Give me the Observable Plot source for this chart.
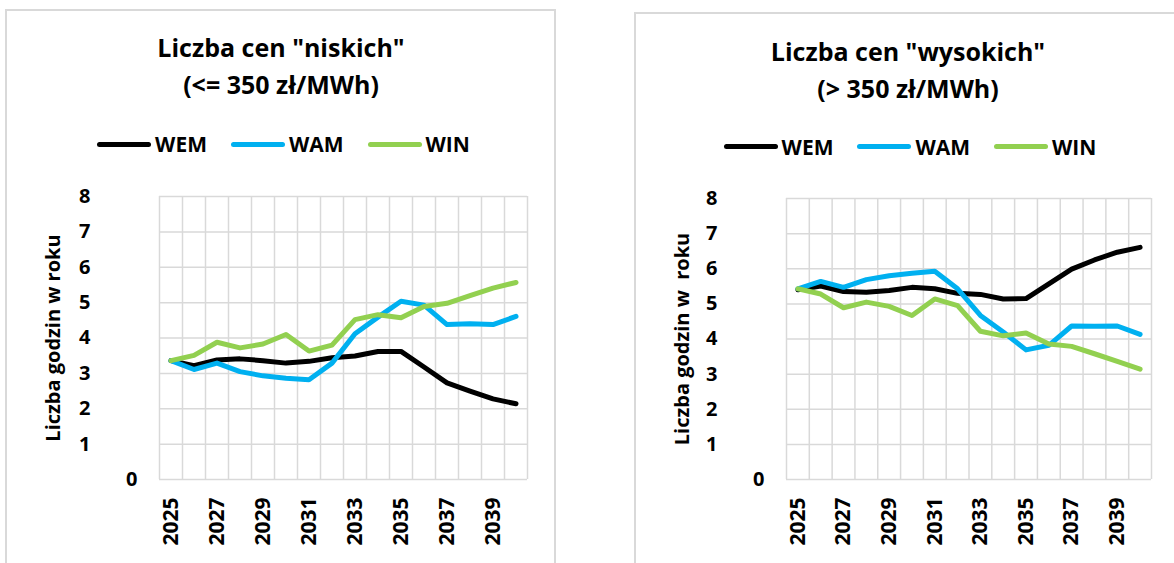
<!DOCTYPE html>
<html><head><meta charset="utf-8">
<script src="https://cdn.jsdelivr.net/npm/d3@7"></script>
<script src="https://cdn.jsdelivr.net/npm/@observablehq/plot@0.6"></script>
<style>
body{margin:0;background:#fff;overflow:hidden;font-family:"Open Sans",sans-serif;color:#000;}
#page{position:relative;width:1174px;height:563px;overflow:hidden;background:#fff;}
.panel{position:absolute;border:2px solid #d9d9d9;box-sizing:border-box;}
.title{position:absolute;text-align:center;font-weight:700;font-size:25px;line-height:37px;white-space:nowrap;}
.legend{position:absolute;display:flex;justify-content:center;align-items:center;font-weight:700;font-size:21px;height:30px;line-height:30px;}
.item{display:flex;align-items:center;margin:0 12px;}
.sw{width:54px;height:5px;border-radius:3px;margin-right:4px;}
.chart{position:absolute;}
</style></head><body><div id="page"></div>
<script>
// ---- data ----
const years = [2025,2026,2027,2028,2029,2030,2031,2032,2033,2034,2035,2036,2037,2038,2039,2040];
const seriesNames = ["WEM","WAM","WIN"];
const seriesColors = ["#000000","#00b0f0","#92d050"];

const lowWEM = [3.36,3.22,3.38,3.41,3.36,3.29,3.34,3.44,3.49,3.62,3.62,3.18,2.73,2.50,2.28,2.14];
const lowWAM = [3.36,3.11,3.29,3.05,2.93,2.86,2.82,3.29,4.12,4.59,5.04,4.93,4.38,4.40,4.38,4.61];
const lowWIN = [3.36,3.51,3.88,3.72,3.83,4.10,3.63,3.80,4.52,4.66,4.57,4.89,4.98,5.20,5.41,5.57];

const highWEM = [5.40,5.51,5.35,5.33,5.38,5.47,5.43,5.30,5.27,5.14,5.15,5.57,5.99,6.25,6.47,6.61];
const highWAM = [5.43,5.64,5.47,5.69,5.80,5.87,5.93,5.43,4.67,4.20,3.69,3.82,4.37,4.36,4.37,4.13];
const highWIN = [5.43,5.28,4.89,5.05,4.93,4.67,5.14,4.95,4.22,4.09,4.17,3.86,3.79,3.58,3.36,3.14];

const xTickLabels = [2025,2027,2029,2031,2033,2035,2037,2039];
const yTickLabels = [1,2,3,4,5,6,7,8];
const yZeroLabel = [0];
const yGrid = [0,1,2,3,4,5,6,7,8];

const titleLow = ['Liczba cen "niskich"', '(<= 350 zł/MWh)'];
const titleHigh = ['Liczba cen "wysokich"', '(> 350 zł/MWh)'];
const yTitleLow = "Liczba godzin w roku";
const yTitleHigh = "Liczba godzin w\u00a0 roku";

// ---- helpers ----
const page = document.getElementById("page");
function el(tag, cls, css, html){
  const e = document.createElement(tag);
  if (cls) e.className = cls;
  Object.assign(e.style, css||{});
  if (html!=null) e.innerHTML = html;
  return e;
}
function esc(s){return s.replace(/&/g,"&amp;").replace(/</g,"&lt;").replace(/>/g,"&gt;");}

function panel(cfg){
  page.appendChild(el("div","panel",{left:cfg.boxLeft+"px",top:cfg.boxTop+"px",width:cfg.boxWidth+"px",height:"700px"}));
  page.appendChild(el("div","title",{left:(cfg.titleCenter-300)+"px",width:"600px",top:cfg.titleTop+"px"},
    cfg.title.map(esc).join("<br>")));
  const lg = el("div","legend",{left:(cfg.legendCenter-300)+"px",width:"600px",top:(cfg.legendMid-15)+"px"});
  seriesNames.forEach((n,i)=>{
    const it = el("div","item");
    it.appendChild(el("div","sw",{background:seriesColors[i]}));
    it.appendChild(el("span",null,{},n));
    lg.appendChild(it);
  });
  page.appendChild(lg);

  const rows = [];
  cfg.series.forEach((vals,si)=>vals.forEach((v,i)=>rows.push({year:years[i],value:v,series:seriesNames[si]})));
  const gridX = years.map(y=>y-0.5).concat([years[years.length-1]+0.5]);
  const chart = Plot.plot({
    width: cfg.width, height: cfg.height,
    marginLeft: cfg.ml, marginRight: cfg.mr, marginTop: cfg.mt, marginBottom: cfg.mb,
    style: {fontFamily:'"Open Sans", sans-serif', color:"#000", background:"transparent", overflow:"visible"},
    x: {domain:[gridX[0], gridX[gridX.length-1]], axis:null},
    y: {domain:[0,8], axis:null},
    color: {domain: seriesNames, range: seriesColors},
    marks: [
      Plot.ruleX(gridX, {stroke:"#d9d9d9", strokeWidth:1.5}),
      Plot.ruleY(yGrid, {stroke:"#d9d9d9", strokeWidth:1.5}),
      Plot.axisX(xTickLabels, {label:null, tickSize:0, tickPadding:18, tickRotate:-90, tickFormat:d3.format("d"), fontSize:21, fontWeight:700}),
      Plot.axisY(yTickLabels, {label:null, tickSize:0, tickPadding:69, fontSize:20, fontWeight:700}),
      Plot.axisY(yZeroLabel, {label:null, tickSize:0, tickPadding:22, fontSize:20, fontWeight:700}),
      Plot.text([cfg.yTitle], {frameAnchor:"left", textAnchor:"middle", text:d=>d, rotate:-90, dx:cfg.yTitleDx, fontSize:20, fontWeight:700}),
      Plot.line(rows, {x:"year", y:"value", z:"series", stroke:"series", strokeWidth:5, strokeLinecap:"round", strokeLinejoin:"round"})
    ]
  });
  const wrap = el("div","chart",{left:cfg.svgLeft+"px",top:cfg.svgTop+"px"});
  wrap.appendChild(chart);
  page.appendChild(wrap);
}

panel({
  boxLeft:5, boxTop:9, boxWidth:551,
  title:titleLow, titleCenter:281, titleTop:29,
  legendCenter:283.5, legendMid:144,
  series:[lowWEM, lowWAM, lowWIN],
  yTitle:yTitleLow, yTitleDx:-106,
  svgLeft:6, svgTop:180, width:550, height:383, ml:153, mr:29, mt:16, mb:84
});
panel({
  boxLeft:634, boxTop:12, boxWidth:548,
  title:titleHigh, titleCenter:908, titleTop:33,
  legendCenter:910, legendMid:146.5,
  series:[highWEM, highWAM, highWIN],
  yTitle:yTitleHigh, yTitleDx:-104,
  svgLeft:635, svgTop:180, width:539, height:383, ml:151, mr:23, mt:18, mb:84
});
</script></body></html>
